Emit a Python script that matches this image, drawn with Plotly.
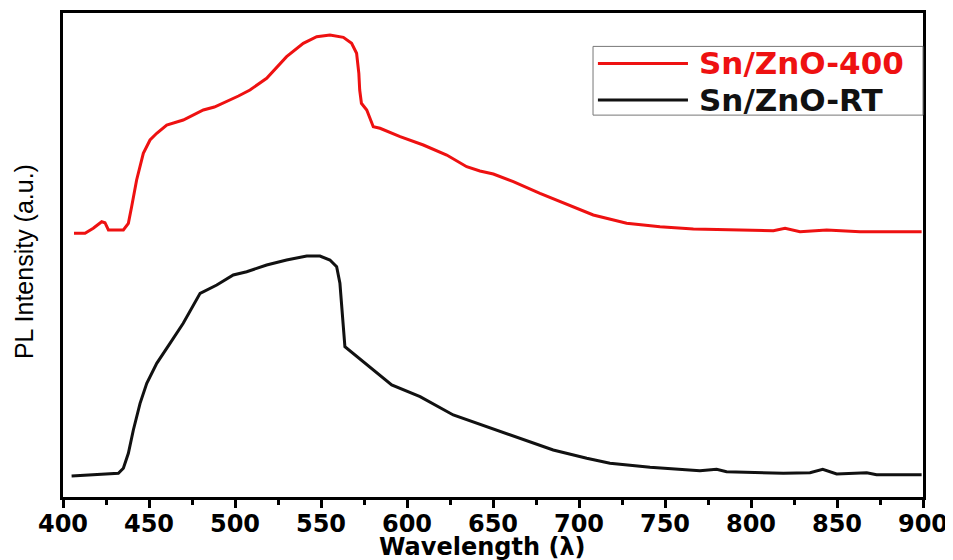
import plotly.graph_objects as go

# Sn/ZnO-400 (red) — wavelength (nm) and PL intensity (a.u.)
wl_400 = [406.4, 412.8, 417.6, 422.5, 424.4, 426.4, 435.1, 438.0, 439.9, 442.8,
          446.7, 450.6, 454.5, 460.3, 469.9, 481.6, 488.0, 495.2, 502.0, 508.7,
          518.4, 530.0, 539.7, 547.5, 555.2, 563.0, 567.8, 570.7, 572.0, 572.5,
          573.5, 576.6, 580.4, 584.3, 596.0, 609.5, 623.1, 634.7, 642.4, 650.2,
          661.8, 677.3, 689.0, 700.6, 708.3, 727.7, 747.1, 766.5, 785.9, 813.0,
          819.8, 828.5, 844.0, 863.4, 899.2]
int_400 = [263.7, 263.7, 268.7, 275.3, 274.3, 267.0, 267.0, 273.7, 290.3, 317.0,
           343.7, 357.0, 363.7, 372.0, 377.0, 387.0, 390.0, 395.3, 401.0, 407.0,
           418.7, 440.3, 453.7, 460.3, 462.0, 459.7, 453.7, 443.7, 423.7, 407.0,
           393.7, 387.0, 370.3, 368.7, 360.3, 352.0, 342.0, 330.3, 326.0, 323.0,
           315.3, 303.7, 295.3, 287.0, 282.0, 273.7, 270.3, 268.0, 267.0, 266.3,
           268.7, 265.3, 267.0, 265.3, 265.3]

# Sn/ZnO-RT (black)
wl_rt = [405.0, 417.6, 432.2, 435.1, 438.0, 440.9, 444.8, 448.7, 454.5, 462.2,
         469.9, 479.7, 489.4, 499.0, 506.8, 518.4, 530.0, 541.7, 549.4, 555.2,
         559.1, 561.0, 562.0, 563.9, 591.1, 607.6, 626.9, 646.3, 665.7, 685.0,
         704.5, 718.0, 741.3, 770.3, 780.0, 785.8, 818.8, 834.3, 841.7, 849.8,
         867.3, 873.0, 899.2]
int_rt = [21.0, 22.0, 23.7, 28.7, 43.7, 67.0, 93.7, 113.7, 133.7, 153.7,
          173.7, 203.7, 212.0, 222.0, 225.3, 232.0, 237.0, 241.0, 241.0, 237.0,
          230.3, 213.7, 190.3, 150.3, 112.0, 100.3, 82.0, 70.3, 58.7, 47.0,
          38.7, 33.7, 29.7, 26.3, 27.7, 25.3, 23.7, 24.3, 27.7, 23.0,
          24.3, 22.3, 22.3]

x_ticks = [400, 450, 500, 550, 600, 650, 700, 750, 800, 850, 900]
series_names = ["Sn/ZnO-400", "Sn/ZnO-RT"]
series_colors = ["#ee1111", "#111111"]

fig = go.Figure()
fig.add_trace(go.Scatter(x=wl_400, y=int_400, mode="lines", name=series_names[0],
                         line=dict(color=series_colors[0], width=3), showlegend=False))
fig.add_trace(go.Scatter(x=wl_rt, y=int_rt, mode="lines", name=series_names[1],
                         line=dict(color=series_colors[1], width=3), showlegend=False))

# Manual legend (box, swatches, labels) in paper coordinates
fig.add_shape(type="rect", xref="paper", yref="paper", x0=0.6163, x1=1.0, y0=0.789, y1=0.931,
              line=dict(color="#777777", width=1), fillcolor="white", layer="above")
rows_y = [0.8957, 0.8202]
for name, color, yy in zip(series_names, series_colors, rows_y):
    fig.add_shape(type="line", xref="paper", yref="paper", x0=0.622, x1=0.7267, y0=yy, y1=yy,
                  line=dict(color=color, width=3), layer="above")
    fig.add_annotation(xref="paper", yref="paper", x=0.7372, y=yy, xanchor="left", yanchor="middle",
                       text=name, showarrow=False,
                       font=dict(family="DejaVu Sans", size=31, color=color, weight="bold"))

# Axis titles
fig.add_annotation(xref="paper", yref="paper", x=0.488, y=-0.1025, xanchor="center", yanchor="middle",
                   text="Wavelength (λ)", showarrow=False,
                   font=dict(family="DejaVu Sans", size=24, color="black", weight="bold"))
fig.add_annotation(xref="paper", yref="paper", x=-0.0453, y=0.4855, xanchor="center", yanchor="middle",
                   text="PL Intensity (a.u.)", showarrow=False, textangle=-90,
                   font=dict(family="Liberation Sans", size=25, color="black"))

fig.update_layout(
    width=945, height=552,
    margin=dict(l=55, r=30, t=5, b=63, autoexpand=False),
    paper_bgcolor="white", plot_bgcolor="white",
    showlegend=False,
)
fig.update_xaxes(
    range=[400, 900], tickvals=x_ticks, ticktext=[str(v) for v in x_ticks],
    showline=True, linecolor="black", linewidth=3, mirror=True,
    ticks="outside", ticklen=8, tickwidth=3, tickcolor="black",
    minor=dict(dtick=25, ticks="outside", ticklen=5, tickwidth=3, tickcolor="black"),
    showgrid=False, zeroline=False, automargin=False,
    tickfont=dict(family="DejaVu Sans", size=24, color="black", weight="bold"),
    ticklabelstandoff=-5,
)
fig.update_yaxes(
    range=[0, 484], showline=True, linecolor="black", linewidth=3, mirror=True,
    ticks="", showticklabels=False, showgrid=False, zeroline=False, automargin=False,
)

fig.write_html("out.html")
